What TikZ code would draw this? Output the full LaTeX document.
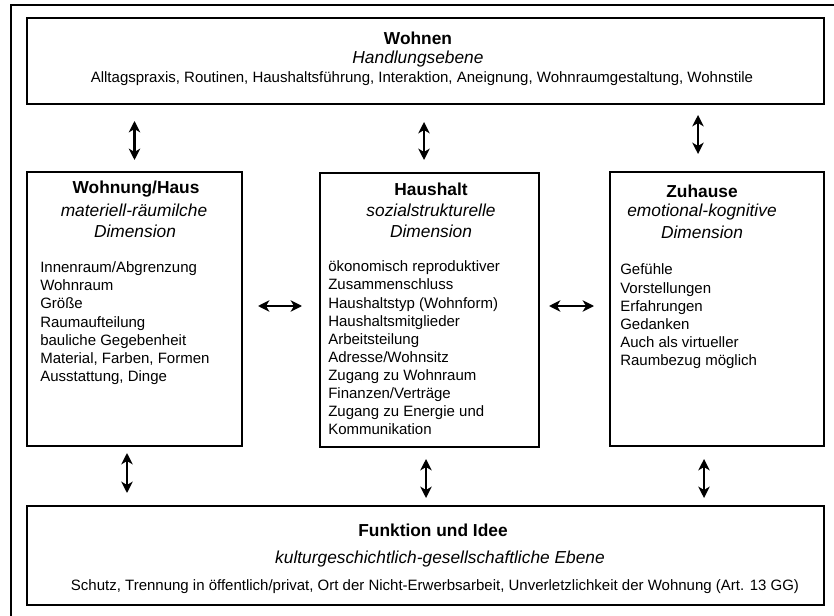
\documentclass[tikz,border=0pt]{standalone}
\usepackage{fontspec}
\setmainfont{Liberation Sans}
\usetikzlibrary{arrows.meta,calc}

\begin{document}
\begin{tikzpicture}[x=0.75pt, y=-0.75pt,
		kasten/.style={draw, line width=1.5pt, inner sep=0pt},
		titel/.style={font=\bfseries\fontsize{13}{15.6}\selectfont, inner sep=0pt},
		ebene/.style={font=\itshape\fontsize{13}{15.6}\selectfont, inner sep=0pt},
		zeile/.style={font=\fontsize{11.25}{13.5}\selectfont, inner sep=0pt},
		eintrag/.style={zeile, anchor=base west},
		pfeil/.style={{Stealth[length=8.5pt,width=8.5pt,inset=2.5pt]}-{Stealth[length=8.5pt,width=8.5pt,inset=2.5pt]}, line width=1.6pt}]
			\useasboundingbox (0,0) rectangle (834,616);
			\draw[line width=1.5pt]	(11,620) |- (840,5);

			% Kaesten
			\node[kasten, minimum width=597.75pt, minimum height=64.5pt]	(wohnen) at (425.5,61) {};
			\node[kasten, minimum width=161.25pt, minimum height=205.5pt]	(wohnung) at (134.5,309) {};
			\node[kasten, minimum width=164.25pt, minimum height=205.5pt]	(haushalt) at (429.5,310) {};
			\node[kasten, minimum width=160.5pt, minimum height=205.5pt]	(zuhause) at (717,309) {};
			\node[kasten, minimum width=597.75pt, minimum height=74.25pt]	(funktion) at (425.5,555.5) {};

			% Wohnen
			\node[titel]	(wohnen-t) at (418,38) {Wohnen};
			\node[ebene]	(wohnen-e) at (418,59) {Handlungsebene};
			\node[zeile]	(wohnen-z) at (422,79) {Alltagspraxis, Routinen, Haushaltsführung, Interaktion, Aneignung, Wohnraumgestaltung, Wohnstile};

			% Wohnung/Haus
			\node[titel]	(wohnung-t) at (136,189) {Wohnung/Haus};
			\node[ebene]	(wohnung-e1) at (134,210) {materiell-räumilche};
			\node[ebene]	(wohnung-e2) at (135,231) {Dimension};
			\foreach \t [count=\i] in {Innenraum/Abgrenzung, Wohnraum, Größe, Raumaufteilung,
					bauliche Gegebenheit, {Material, Farben, Formen}, {Ausstattung, Dinge}} {
				\node[eintrag]	(wohnung-\i) at (40, {255+18*\i}) {\t};
			}

			% Haushalt
			\node[titel]	(haushalt-t) at (431,189) {Haushalt};
			\node[ebene]	(haushalt-e1) at (431,210) {sozialstrukturelle};
			\node[ebene]	(haushalt-e2) at (431,231) {Dimension};
			\foreach \t [count=\i] in {ökonomisch reproduktiver, Zusammenschluss, Haushaltstyp (Wohnform),
					Haushaltsmitglieder, Arbeitsteilung, Adresse/Wohnsitz, Zugang zu Wohnraum,
					Finanzen/Verträge, Zugang zu Energie und, Kommunikation} {
				\node[eintrag]	(haushalt-\i) at (328, {254+18*\i}) {\t};
			}

			% Zuhause
			\node[titel]	(zuhause-t) at (702,191) {Zuhause};
			\node[ebene]	(zuhause-e1) at (702,212) {emotional-kognitive};
			\node[ebene]	(zuhause-e2) at (702,232) {Dimension};
			\foreach \t [count=\i] in {Gefühle, Vorstellungen, Erfahrungen, Gedanken,
					Auch als virtueller, Raumbezug möglich} {
				\node[eintrag]	(zuhause-\i) at (620, {257+18*\i}) {\t};
			}

			% Funktion und Idee
			\node[titel]	(funktion-t) at (433,530) {Funktion und Idee};
			\node[ebene]	(funktion-e) at (440,559) {kulturgeschichtlich-gesellschaftliche Ebene};
			\node[zeile]	(funktion-z) at (435,587) {Schutz, Trennung in öffentlich/privat, Ort der Nicht-Erwerbsarbeit, Unverletzlichkeit der Wohnung (Art. 13 GG)};

			% Pfeile
			\draw[pfeil]	($(wohnung.north)+(0,-11)$) to ($(wohnung.north |- wohnen.south)+(0,16)$);
			\draw[pfeil]	($(haushalt.north)+(-5.5,-12)$) to ($(haushalt.north |- wohnen.south)+(-5.5,17)$);
			\draw[pfeil]	($(zuhause.north)+(-19,-17)$) to ($(zuhause.north |- wohnen.south)+(-19,10)$);
			\draw[pfeil]	($(wohnung.south)+(-7.5,6)$) to ($(wohnung.south |- funktion.north)+(-7.5,-12)$);
			\draw[pfeil]	($(haushalt.south)+(-3.5,11)$) to ($(haushalt.south |- funktion.north)+(-3.5,-7)$);
			\draw[pfeil]	($(zuhause.south)+(-13,12)$) to ($(zuhause.south |- funktion.north)+(-13,-7)$);
			\draw[pfeil]	($(wohnung.east)+(15,-3)$) to ($(wohnung.east -| haushalt.west)+(-17,-3)$);
			\draw[pfeil]	($(haushalt.east)+(9,-4)$) to ($(haushalt.east -| zuhause.west)+(-15,-4)$);
		\end{tikzpicture}
\end{document}
